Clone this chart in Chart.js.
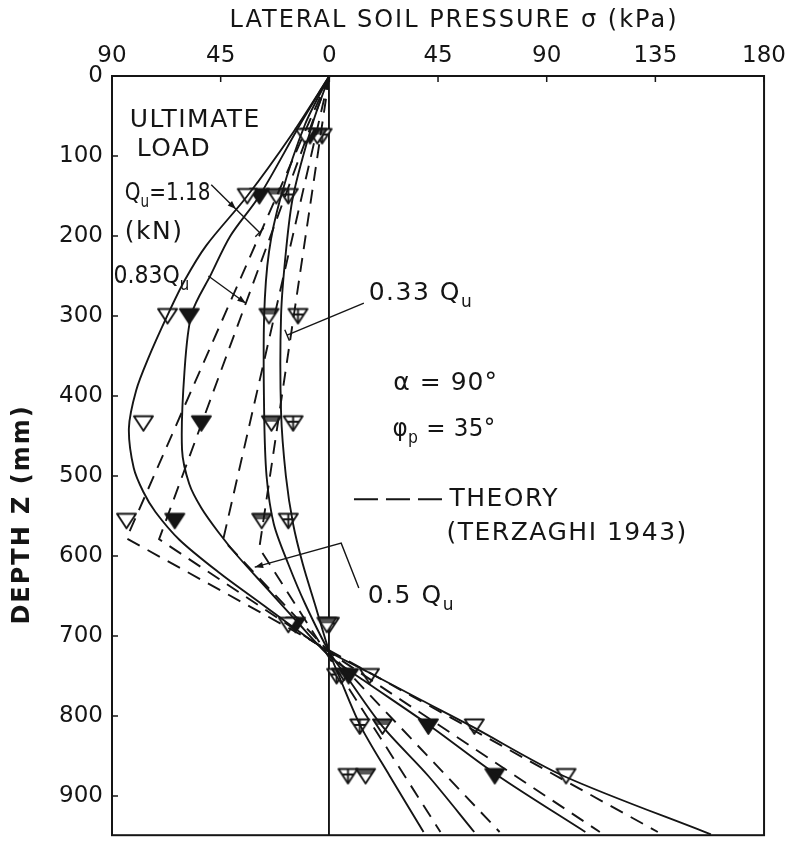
<!DOCTYPE html>
<html><head><meta charset="utf-8">
<script src="https://cdn.jsdelivr.net/npm/chart.js@4/dist/chart.umd.min.js"></script>
<style>html,body{margin:0;padding:0;background:#fff}#wrap{width:792px;height:858px;position:relative}</style>
</head><body><div id="wrap"><canvas id="c" width="792" height="858"></canvas></div>
<script>
// ---------- data ----------
const xTicks = [-90, -45, 0, 45, 90, 135, 180];
const yTicks = [0, 100, 200, 300, 400, 500, 600, 700, 800, 900];
const xTitle = 'LATERAL SOIL PRESSURE σ (kPa)';
const yTitle = 'DEPTH Z (mm)';

// measured points (depth mm, lateral pressure kPa; negative = left side)
const obsDepth = [75, 150, 300, 434, 556, 686, 750, 813, 875];
const obsQu    = [-10, -34, -67, -77, -84, -17, 16.6, 60, 98];
const obs083   = [-8, -29, -58, -53, -64, -14, 8, 41, 68.5];
const obs05    = [-5, -22, -25, -24, -28, -1, 5, 22, 15];
const obs033   = [-3, -17, -13, -15, -17, 0, 3, 12.6, 7.7];

// fitted experimental curves (solid)
const fitQuDepth  = [0, 75, 150, 212, 256, 299, 353, 393, 440, 490, 520, 545, 580, 620, 660, 700, 720, 745, 780, 813, 875, 948];
const fitQuSigma  = [0, -16, -34, -51, -60, -67, -75, -80, -83, -81, -77, -72, -62, -46, -28, -10, 0, 16, 38, 59, 97, 158];
const fit083Depth = [0, 60, 150, 200, 248, 297, 370, 467, 510, 540, 570, 600, 640, 680, 725, 755, 813, 875, 945];
const fit083Sigma = [0, -12, -29, -41, -49, -57, -60, -61, -58, -53, -46, -38, -26, -14, 0, 14, 42, 70, 106];
const fit05Depth  = [0, 60, 150, 220, 300, 420, 500, 560, 610, 660, 720, 750, 813, 875, 945];
const fit05Sigma  = [0, -10, -20, -25, -27, -27, -26, -23, -17, -10, 0, 7, 22, 41, 60];
const fit033Depth = [0, 60, 150, 220, 300, 420, 500, 560, 610, 660, 720, 750, 813, 875, 945];
const fit033Sigma = [0, -7, -15, -18, -20, -20, -18, -15, -11, -6, 0, 4, 13, 25, 39];

// theory (Terzaghi 1943), dashed
const thQuDepth  = [0, 578, 945];  const thQuSigma  = [0, -84, 136];
const th083Depth = [0, 579, 945];  const th083Sigma = [0, -70.5, 112];
const th05Depth  = [0, 580, 945];  const th05Sigma  = [0, -44, 70.5];
const th033Depth = [0, 590, 945];  const th033Sigma = [0, -29, 46];

// ---------- helpers ----------
const INK = '#151515';
const FONT = "'DejaVu Sans', sans-serif";
const pts = (xs, ys) => xs.map((x, i) => ({x: x, y: ys[i]}));

function triImg(kind) {
  const c = document.createElement('canvas');
  c.width = 23; c.height = 19;
  const g = c.getContext('2d');
  g.lineWidth = 1.9; g.strokeStyle = INK; g.lineJoin = 'round';
  g.beginPath(); g.moveTo(2, 2.5); g.lineTo(21, 2.5); g.lineTo(11.5, 17); g.closePath();
  g.fillStyle = kind === 'filled' ? INK : '#fff';
  g.fill();
  if (kind === 'half') {
    g.save(); g.clip();
    g.fillStyle = '#555'; g.fillRect(0, 0, 23, 8);
    g.restore();
  }
  g.stroke();
  if (kind === 'cross') {
    g.beginPath(); g.moveTo(11.5, 2.5); g.lineTo(11.5, 17); g.moveTo(5, 8); g.lineTo(18, 8); g.stroke();
  }
  return c;
}

const solid = (data) => ({data, showLine: true, pointRadius: 0, borderColor: INK, borderWidth: 1.9, tension: 0.3, fill: false});
const dashed = (data) => ({data, showLine: true, pointRadius: 0, borderColor: INK, borderWidth: 1.9, borderDash: [14, 9], tension: 0, fill: false});
const marks = (data, kind) => ({data, showLine: false, pointStyle: triImg(kind), pointRadius: 9, borderColor: INK});

// ---------- annotations plugin ----------
const annot = {
  id: 'annot',
  afterDraw(chart) {
    const {ctx, chartArea: a, scales: {x, y}} = chart;
    const P = (s, d) => [x.getPixelForValue(s), y.getPixelForValue(d)];
    ctx.save();
    // frame
    ctx.strokeStyle = INK; ctx.lineWidth = 2;
    ctx.strokeRect(a.left, a.top, a.right - a.left, a.bottom - a.top);
    // inward ticks
    ctx.lineWidth = 1.5;
    xTicks.forEach(v => { const px = x.getPixelForValue(v); ctx.beginPath(); ctx.moveTo(px, a.top); ctx.lineTo(px, a.top + 6); ctx.stroke(); });
    yTicks.forEach(v => { const py = y.getPixelForValue(v); ctx.beginPath(); ctx.moveTo(a.left, py); ctx.lineTo(a.left + 6, py); ctx.stroke(); });

    ctx.fillStyle = INK; ctx.textBaseline = 'middle';
    // axis titles
    ctx.letterSpacing = '2px';
    ctx.font = `24px ${FONT}`; ctx.textAlign = 'center';
    ctx.fillText(xTitle, (a.left + a.right) / 2 + 16, 21);
    ctx.save();
    ctx.font = `bold 24px ${FONT}`;
    const [, yc] = P(0, 548);
    ctx.translate(23, yc); ctx.rotate(-Math.PI / 2);
    ctx.fillText(yTitle, 0, 0);
    ctx.restore();

    ctx.textAlign = 'left';
    const rich = (parts, s, d, sx = 1, ls = 1.5) => {
      const [px0, py] = P(s, d);
      ctx.save();
      ctx.letterSpacing = ls + 'px';
      ctx.translate(px0, py); ctx.scale(sx, 1);
      let px = 0;
      parts.forEach(p => {
        if (p.sub) { ctx.font = `17px ${FONT}`; ctx.fillText(p.t, px, 9); }
        else { ctx.font = `25px ${FONT}`; ctx.fillText(p.t, px, 0); }
        px += ctx.measureText(p.t).width;
      });
      ctx.restore();
    };
    rich([{t: 'ULTIMATE'}], -82.7, 56);
    rich([{t: 'LOAD'}], -79.8, 92);
    rich([{t: 'Q'}, {t: 'u', sub: true}, {t: '=1.18'}], -84.7, 147, 0.8, 0);
    rich([{t: '(kN)'}], -84.7, 195);
    rich([{t: '0.83Q'}, {t: 'u', sub: true}], -89.4, 251, 0.88, 0);
    rich([{t: '0.33 Q'}, {t: 'u', sub: true}], 16.3, 272);
    rich([{t: 'α = 90°'}], 26.5, 384, 1, 1);
    rich([{t: 'φ'}, {t: 'p', sub: true}, {t: ' = 35°'}], 26.1, 442, 0.92, 0.5);
    rich([{t: 'THEORY'}], 49.7, 529);
    rich([{t: '(TERZAGHI 1943)'}], 48.5, 572);
    rich([{t: '0.5 Q'}, {t: 'u', sub: true}], 15.9, 651);

    // theory legend dash
    ctx.lineWidth = 2; ctx.setLineDash([24, 8]);
    let [l0x, l0y] = P(10.2, 529), [l1x] = P(46.8, 529);
    ctx.beginPath(); ctx.moveTo(l0x, l0y); ctx.lineTo(l1x, l0y); ctx.stroke();
    ctx.setLineDash([]);

    // pointers
    ctx.lineWidth = 1.4;
    const poly = (arr) => { ctx.beginPath(); arr.forEach((q, i) => { const [px, py] = P(q[0], q[1]); i ? ctx.lineTo(px, py) : ctx.moveTo(px, py); }); ctx.stroke(); };
    const head = (from, to) => {
      const [ax, ay] = P(from[0], from[1]), [bx, by] = P(to[0], to[1]);
      const ang = Math.atan2(by - ay, bx - ax), L = 9;
      ctx.beginPath(); ctx.moveTo(bx, by);
      ctx.lineTo(bx - L * Math.cos(ang - 0.35), by - L * Math.sin(ang - 0.35));
      ctx.lineTo(bx - L * Math.cos(ang + 0.35), by - L * Math.sin(ang + 0.35));
      ctx.closePath(); ctx.fill();
    };
    const tick = (from, to) => {
      const [ax, ay] = P(from[0], from[1]), [bx, by] = P(to[0], to[1]);
      const ang = Math.atan2(by - ay, bx - ax) + Math.PI / 2, L = 6;
      ctx.beginPath(); ctx.moveTo(bx - L * Math.cos(ang), by - L * Math.sin(ang)); ctx.lineTo(bx + L * Math.cos(ang), by + L * Math.sin(ang)); ctx.stroke();
    };
    // Qu = 1.18
    poly([[-48.9, 136], [-28.9, 195.5]]); head([-48.9, 136], [-38.7, 166.4]); tick([-48.9, 136], [-28.9, 195.5]);
    // 0.83 Qu
    poly([[-50.1, 250], [-34.6, 284]]); head([-50.1, 250], [-34.6, 284]);
    // 0.33 Qu
    poly([[14.3, 284], [-17.5, 324]]); tick([14.3, 284], [-17.5, 324]);
    // 0.5 Qu
    poly([[12.2, 640], [4.9, 584], [-30.9, 614]]); head([4.9, 584], [-30.9, 614]);
    ctx.restore();
  }
};

new Chart(document.getElementById('c'), {
  type: 'scatter',
  data: {
    datasets: [
      dashed(pts(thQuSigma, thQuDepth)),
      dashed(pts(th083Sigma, th083Depth)),
      dashed(pts(th05Sigma, th05Depth)),
      dashed(pts(th033Sigma, th033Depth)),
      solid(pts(fitQuSigma, fitQuDepth)),
      solid(pts(fit083Sigma, fit083Depth)),
      solid(pts(fit05Sigma, fit05Depth)),
      solid(pts(fit033Sigma, fit033Depth)),
      marks(pts(obsQu, obsDepth), 'open'),
      marks(pts(obs083, obsDepth), 'filled'),
      marks(pts(obs05, obsDepth), 'half'),
      marks(pts(obs033, obsDepth), 'cross')
    ]
  },
  options: {
    responsive: false, animation: false, events: [],
    layout: {padding: {left: 0, right: 17, top: 0, bottom: 1}},
    plugins: {legend: {display: false}, tooltip: {enabled: false}},
    scales: {
      x: {
        type: 'linear', position: 'top', min: -90, max: 180,
        afterBuildTicks: s => { s.ticks = xTicks.map(v => ({value: v})); },
        afterFit: s => { s.height = 76; },
        ticks: {callback: v => String(Math.abs(v)), color: INK, font: {family: FONT, size: 23}, padding: 6, maxRotation: 0, autoSkip: false},
        grid: {drawTicks: false, lineWidth: 1.9, color: c => (c.tick && c.tick.value === 0) ? INK : 'rgba(0,0,0,0)'},
        border: {display: false},
        title: {display: false}
      },
      y: {
        type: 'linear', reverse: true, min: 0, max: 949,
        afterBuildTicks: s => { s.ticks = yTicks.map(v => ({value: v})); },
        afterFit: s => { s.width = 112; },
        ticks: {color: INK, font: {family: FONT, size: 23}, padding: 9, autoSkip: false},
        grid: {display: false, drawTicks: false},
        border: {display: false},
        title: {display: false}
      }
    }
  },
  plugins: [annot]
});
</script>
</body></html>
